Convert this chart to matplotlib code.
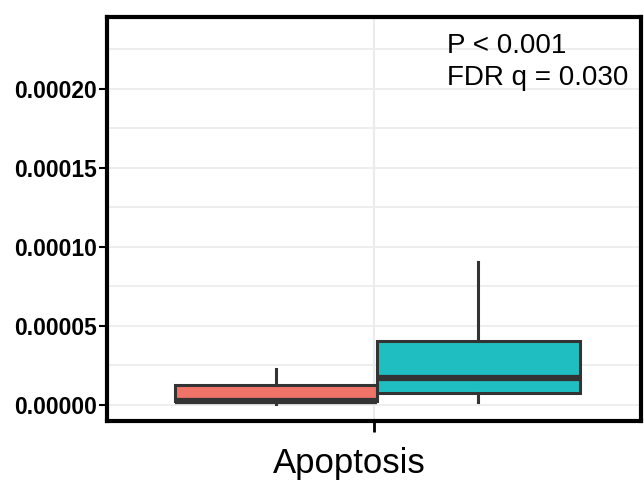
import numpy as np
import matplotlib
matplotlib.use("Agg")
import matplotlib.pyplot as plt

plt.rcParams["font.family"] = ["Liberation Sans", "DejaVu Sans"]

# box statistics
groups = ["low", "high"]
colors = ["#F0736A", "#1FBFC1"]
whislo = [0.0000008, 0.0000015]
q1 = [0.0000025, 0.0000075]
med = [0.0000025, 0.0000170]
q3 = [0.0000125, 0.0000405]
whishi = [0.0000228, 0.0000902]
positions = [0.78, 1.235]
category = "Apoptosis"
yticks = [0.0, 0.00005, 0.0001, 0.00015, 0.0002]
ytick_labels = ["0.00000", "0.00005", "0.00010", "0.00015", "0.00020"]
annot = ["P < 0.001", "FDR q = 0.030"]

stats = []
for i, g in enumerate(groups):
    stats.append({"label": g, "whislo": whislo[i], "q1": q1[i], "med": med[i],
                  "q3": q3[i], "whishi": whishi[i], "fliers": []})

fig = plt.figure(figsize=(6.44, 4.8), dpi=100)
ax = fig.add_axes([0.166, 0.123, 0.829, 0.842])

ax.set_ylim(-0.0000102, 0.0002457)
ax.set_xlim(0.4, 1.6)

# grid: major + minor horizontal, one vertical at the category
for y in np.arange(0.0, 0.00025, 0.000025):
    ax.axhline(y, color="#EBEBEB", lw=1.2, zorder=0)
ax.axvline(1.0, color="#EBEBEB", lw=1.5, zorder=0)

bp = ax.bxp(stats, positions=positions, widths=0.455, patch_artist=True,
            showcaps=False, showfliers=False, manage_ticks=False,
            boxprops=dict(edgecolor="#333333", linewidth=2.2),
            medianprops=dict(color="#333333", linewidth=4.5),
            whiskerprops=dict(color="#333333", linewidth=2.2))
for patch, c in zip(bp["boxes"], colors):
    patch.set_facecolor(c)
    patch.set_zorder(2)

ax.set_yticks(yticks)
ax.set_yticklabels(ytick_labels, fontsize=16.5, fontweight="bold")
ax.set_xticks([1.0])
ax.set_xticklabels([""])
ax.tick_params(axis="y", length=6, width=1.5, pad=1)
ax.tick_params(axis="x", length=8, width=2)

# category label sits a little left of its tick in the original
ax.annotate(category, xy=(1.0, 0.0), xycoords=("data", "axes fraction"),
            xytext=(-18, -37.5), textcoords="offset points",
            ha="center", va="baseline", fontsize=25)

for s in ax.spines.values():
    s.set_linewidth(3)
    s.set_color("black")

ax.text(0.637, 0.911, annot[0], transform=ax.transAxes, fontsize=20,
        va="baseline", ha="left")
ax.text(0.637, 0.832, annot[1], transform=ax.transAxes, fontsize=20,
        va="baseline", ha="left")

fig.savefig("out.png", dpi=100)
